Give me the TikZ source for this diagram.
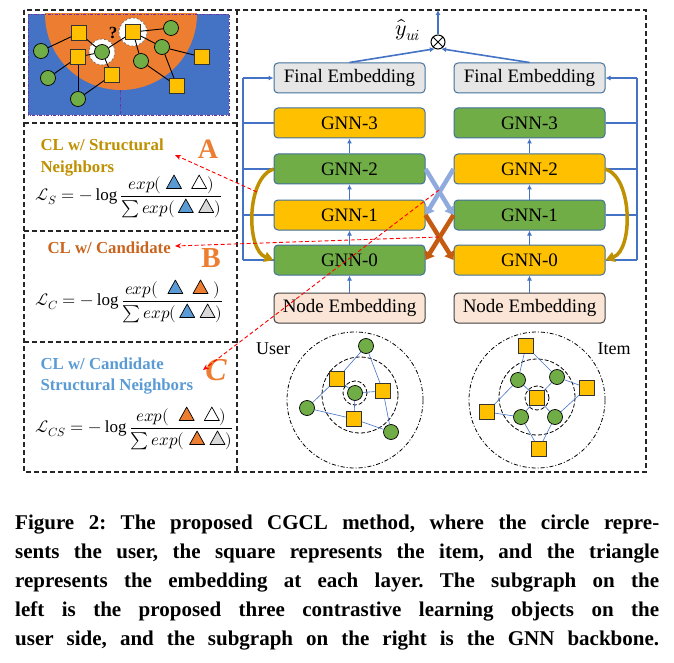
\documentclass[tikz,border=0pt]{standalone}
\usepackage{fontspec}
\usepackage{unicode-math}
\setmainfont{Liberation Serif}
\setmathfont{Latin Modern Math}
\usetikzlibrary{arrows.meta}
\definecolor{myblue}{HTML}{4472C4}
\definecolor{myorange}{HTML}{ED7D31}
\definecolor{mygreen}{HTML}{70AD47}
\definecolor{myyellow}{HTML}{FFC000}
\definecolor{mygold}{HTML}{BF9000}
\definecolor{mybrown}{HTML}{C55A11}
\definecolor{lightblue}{HTML}{8FAADC}
\definecolor{txtblue}{HTML}{5B9BD5}
\definecolor{txtorange}{HTML}{C9651F}
\definecolor{boxedge}{HTML}{41719C}
\definecolor{grayfill}{HTML}{E7E6E6}
\definecolor{peach}{HTML}{FBE5D6}
\definecolor{purp}{HTML}{7030A0}
\definecolor{trigray}{HTML}{D9D9D9}
\definecolor{triblue}{HTML}{5B9BD5}
\newcommand{\tri}[1]{\tikz[x=1pt,y=1pt,baseline=-0.5pt]{\draw[fill=#1,line width=0.7pt,line join=round] (0,0)--(15,0)--(7.5,13.5)--cycle;}}
\newcommand{\capline}[1]{\makebox[644pt][s]{\frenchspacing #1}}
\begin{document}
\begin{tikzpicture}[x=1pt,y=-1pt,
  frame/.style={draw=black!85,line width=1.3pt,dash pattern=on 5pt off 3pt},
  gnn/.style={draw=boxedge,line width=1pt,rounded corners=4pt,minimum width=151pt,minimum height=30pt,inner sep=0pt,font=\fontsize{19}{22}\selectfont},
  varr/.style={draw=myblue,line width=1.6pt,-{Latex[length=5pt,width=5pt]}},
  sumline/.style={draw=myblue,line width=1.6pt},
  goldarr/.style={draw=mygold,line width=3.5pt,-{Triangle[length=9pt,width=10pt]}},
  lbarr/.style={draw=lightblue,line width=4.5pt,-{Triangle[length=8pt,width=11pt]}},
  brarr/.style={draw=mybrown,line width=4.5pt,-{Triangle[length=8pt,width=11pt]}},
  redarr/.style={draw=red,line width=0.9pt,dash pattern=on 4pt off 2.5pt,-{Stealth[length=6pt,width=5pt]}},
  gc/.style={circle,fill=mygreen,draw=black,line width=0.7pt,minimum size=15pt,inner sep=0pt},
  ys/.style={rectangle,fill=myyellow,draw=black!80,line width=0.7pt,minimum size=15pt,inner sep=0pt},
  gedge/.style={draw=black,line width=0.9pt},
  bedge/.style={draw=myblue,line width=0.6pt},
  ringa/.style={draw=black,line width=0.8pt,dash pattern=on 4pt off 2pt on 1pt off 2pt},
  ringb/.style={draw=black,line width=0.8pt,dash pattern=on 4pt off 2pt},
  cltext/.style={anchor=base west,font=\fontsize{16.8}{20}\selectfont\bfseries},
  bigletter/.style={text=myorange,font=\fontsize{28}{28}\selectfont\bfseries},
  formula/.style={anchor=west,inner sep=0pt,font=\fontsize{17}{20}\selectfont},
  capt/.style={anchor=base west,inner sep=0pt,font=\fontsize{21}{25}\selectfont\bfseries}
]
\useasboundingbox (0,0) rectangle (674,663);
\fill[white] (0,0) rectangle (674,663);

% ---------- frames ----------
\draw[frame] (24,10) rectangle (646,472);
\draw[frame] (237,10) -- (237,472);
\draw[frame] (24,123) -- (237,123);
\draw[frame] (24,231) -- (237,231);
\draw[frame] (24,342) -- (237,342);

% ---------- top-left picture ----------
\begin{scope}
\clip (28,14) rectangle (229,115);
\fill[myblue] (28,14) rectangle (229,115);
\fill[myorange] (121,14) circle (76pt);
\end{scope}
\draw[purp,line width=0.8pt,dash pattern=on 3pt off 1.5pt on 1pt off 1.5pt] (28,14) rectangle (229,115);
\draw[purp,line width=0.8pt,dash pattern=on 3pt off 1.5pt on 1pt off 1.5pt] (120,90) -- (120,115);
\fill[white] (102,52) circle (13pt);
\draw[black!60,line width=0.6pt,dash pattern=on 2pt off 2pt] (102,52) circle (13pt);
\fill[white] (133,32) circle (14pt);
\draw[black!60,line width=0.6pt,dash pattern=on 2pt off 2pt] (133,32) circle (14pt);
\node[ys] (s1) at (79,33) {};
\node[ys] (s2) at (78,57) {};
\node[ys] (s3) at (112,75) {};
\node[ys] (s4) at (133,32) {};
\node[ys] (s5) at (202,57) {};
\node[ys] (s6) at (177,86) {};
\node[gc] (c1) at (41,51) {};
\node[gc] (c2) at (48,78) {};
\node[gc] (c3) at (78,99) {};
\node[gc] (c4) at (102,52) {};
\node[gc] (c5) at (171,28) {};
\node[gc] (c6) at (162,47) {};
\node[gc] (c7) at (141,61) {};
\draw[gedge] (c1) -- (s1);
\draw[gedge] (s1) -- (c4);
\draw[gedge] (s2) -- (c2);
\draw[gedge] (s2) -- (c3);
\draw[gedge] (s2) -- (c4);
\draw[gedge] (c4) -- (s4);
\draw[gedge] (c4) -- (s3);
\draw[gedge] (s3) -- (c3);
\draw[gedge] (s4) -- (c5);
\draw[gedge] (s4) -- (c6);
\draw[gedge] (s4) -- (c7);
\draw[gedge] (c6) -- (s5);
\draw[gedge] (c6) -- (s6);
\draw[gedge] (c7) -- (s6);
\node[font=\fontsize{17}{17}\selectfont\bfseries] (qm) at (113,33) {?};

% ---------- left texts ----------
\node[cltext,text=mygold] (la1) at (37,151) {CL w/ Structural};
\node[cltext,text=mygold] (la2) at (37,172) {Neighbors};
\node[bigletter] (A) at (208,149) {A};
\node[formula] (fa) at (35,196) {$\mathcal{L}_S=-\log\displaystyle\frac{exp(\;\tri{triblue}\;\;\tri{white})}{\sum exp(\,\tri{triblue}\;\tri{trigray})}$};

\node[cltext,text=txtorange] (lb1) at (44,253) {CL w/ Candidate};
\node[bigletter,font=\fontsize{29}{29}\selectfont\bfseries] (B) at (211,258) {B};
\node[formula] (fb) at (35,301) {$\mathcal{L}_C=-\log\displaystyle\frac{exp(\;\;\tri{triblue}\;\;\tri{myorange}\;)}{\sum exp(\,\tri{triblue}\;\tri{trigray})}$};

\node[cltext,text=txtblue] (lc1) at (37,369) {CL w/ Candidate};
\node[cltext,text=txtblue] (lc2) at (37,390) {Structural Neighbors};
\node[bigletter,font=\fontsize{32}{32}\selectfont\bfseries\itshape] (C) at (216,370) {C};
\node[formula] (fc) at (35,428) {$\mathcal{L}_{CS}=-\log\displaystyle\frac{exp(\;\;\tri{myorange}\;\;\tri{white})}{\sum exp(\;\tri{myorange}\;\tri{trigray})}$};

% ---------- stacks ----------
\node[gnn,fill=grayfill] (fl) at (349.5,78) {Final Embedding};
\node[gnn,fill=myyellow] (l3) at (349.5,123) {GNN-3};
\node[gnn,fill=mygreen] (l2) at (349.5,169) {GNN-2};
\node[gnn,fill=myyellow] (l1) at (349.5,215) {GNN-1};
\node[gnn,fill=mygreen] (l0) at (349.5,260) {GNN-0};
\node[gnn,fill=peach,draw=black!75] (nl) at (349.5,308) {Node Embedding};

\node[gnn,fill=grayfill] (fr) at (529.5,78) {Final Embedding};
\node[gnn,fill=mygreen] (r3) at (529.5,123) {GNN-3};
\node[gnn,fill=myyellow] (r2) at (529.5,169) {GNN-2};
\node[gnn,fill=mygreen] (r1) at (529.5,215) {GNN-1};
\node[gnn,fill=myyellow] (r0) at (529.5,260) {GNN-0};
\node[gnn,fill=peach,draw=black!75] (nr) at (529.5,308) {Node Embedding};

\foreach \a/\b in {nl/l0,l0/l1,l1/l2,l2/l3,nr/r0,r0/r1,r1/r2,r2/r3}
  \draw[varr] (\a.north) -- (\b.south);

% sum lines
\coordinate (lsTop) at (243,78);
\coordinate (lsBot) at (243,260);
\draw[sumline] (lsBot) -- (lsTop);
\draw[varr] (lsTop) -- (fl.west);
\foreach \n in {l3,l2,l1,l0}
  \draw[sumline] (\n.west) -- (\n.west -| lsTop);
\coordinate (rsTop) at (637,78);
\coordinate (rsBot) at (637,260);
\draw[sumline] (rsBot) -- (rsTop);
\draw[varr] (rsTop) -- (fr.east);
\foreach \n in {r3,r2,r1,r0}
  \draw[sumline] (\n.east) -- (\n.east -| rsTop);

% product
\node[circle,draw,line width=1pt,minimum size=14pt,inner sep=0pt,
  path picture={\draw[line width=1pt] (path picture bounding box.north west) -- (path picture bounding box.south east)
    (path picture bounding box.north east) -- (path picture bounding box.south west);}] (ot) at (438,42) {};
\coordinate (outtop) at (438,10);
\draw[varr] (ot.north) -- (outtop);
\draw[varr] (fl.north) -- (ot.-115);
\draw[varr] (fr.north) -- (ot.-65);
\node[font=\fontsize{22}{22}\selectfont] (yhat) at (408,30) {$\hat{y}_{ui}$};

% gold curved arrows
\draw[goldarr] (l2.west) .. controls (246,178) and (246,250) .. (l0.west);
\draw[goldarr] (r2.east) .. controls (633,178) and (633,250) .. (r0.east);

% crossing arrows
\draw[lbarr] (l2.east) -- (r1.west);
\draw[lbarr] (r2.west) -- (l1.east);
\draw[brarr] (l1.east) -- (r0.west);
\draw[brarr] (r1.west) -- (l0.east);

% red dashed arrows
\coordinate (xup) at (439,190);
\coordinate (xlo) at (439,237);
\coordinate (gA) at (257,192);
\coordinate (tA) at (175,155);
\coordinate (tB) at (175,246);
\coordinate (tC) at (203,370);
\draw[redarr] (gA) -- (tA);
\draw[redarr] (xlo) -- (tB);
\draw[redarr] (xup) -- (tC);

% ---------- user graph ----------
\draw[ringa] (355,400) circle (68pt);
\draw[ringb] (360,395) circle (38pt);
\draw[ringb] (355,393) circle (12pt);
\node[gc] (uc) at (355,393) {};
\node[ys] (ua) at (337,379) {};
\node[ys] (ub) at (383,391) {};
\node[ys] (ucs) at (354,419) {};
\node[gc] (u1) at (366,346) {};
\node[gc] (u2) at (307,408) {};
\node[gc] (u3) at (391,432) {};
\draw[bedge] (uc) -- (ua);
\draw[bedge] (uc) -- (ub);
\draw[bedge] (uc) -- (ucs);
\draw[bedge] (ua) -- (u1);
\draw[bedge] (ua) -- (u2);
\draw[bedge] (u2) -- (ucs);
\draw[bedge] (ucs) -- (u3);
\draw[bedge] (u1) -- (ub);
\draw[bedge] (ub) -- (u3);
\node[font=\fontsize{18}{18}\selectfont] (ulab) at (273,349) {User};

% ---------- item graph ----------
\draw[ringa] (537,400) circle (68pt);
\draw[ringb] (537,397) circle (38pt);
\draw[ringb] (537,398) circle (12pt);
\node[ys] (ic) at (537,398) {};
\node[gc] (i1) at (518,380) {};
\node[gc] (i2) at (557,377) {};
\node[gc] (i3) at (521,417) {};
\node[gc] (i4) at (555,417) {};
\node[ys] (it) at (526,346) {};
\node[ys] (ir) at (587,388) {};
\node[ys] (il) at (487,412) {};
\node[ys] (ib) at (539,449) {};
\draw[bedge] (ic) -- (i1);
\draw[bedge] (ic) -- (i2);
\draw[bedge] (ic) -- (i3);
\draw[bedge] (ic) -- (i4);
\draw[bedge] (it) -- (i1);
\draw[bedge] (it) -- (i2);
\draw[bedge] (i1) -- (il);
\draw[bedge] (il) -- (i3);
\draw[bedge] (i2) -- (ir);
\draw[bedge] (ir) -- (i4);
\draw[bedge] (i3) -- (ib);
\draw[bedge] (i4) -- (ib);
\node[font=\fontsize{18}{18}\selectfont] (ilab) at (614,349) {Item};

% ---------- caption ----------
\node[capt] (cap1) at (15,529) {\capline{Figure 2: The proposed CGCL method, where the circle repre-}};
\node[capt] (cap2) at (15,558) {\capline{sents the user, the square represents the item, and the triangle}};
\node[capt] (cap3) at (15,587) {\capline{represents the embedding at each layer. The subgraph on the}};
\node[capt] (cap4) at (15,616) {\capline{left is the proposed three contrastive learning objects on the}};
\node[capt] (cap5) at (15,645) {\capline{user side, and the subgraph on the right is the GNN backbone.}};
\end{tikzpicture}
\end{document}
